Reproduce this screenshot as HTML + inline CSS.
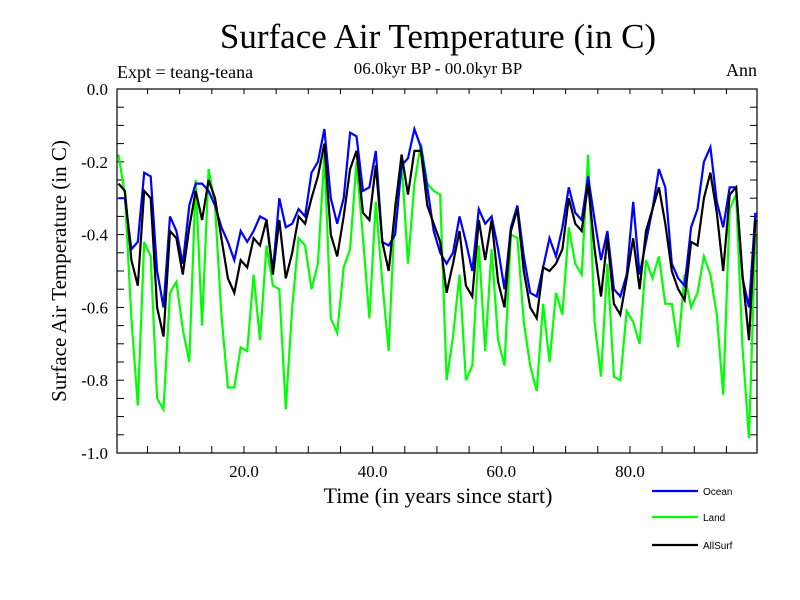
<!DOCTYPE html>
<html><head><meta charset="utf-8"><style>
body{margin:0;background:#fff;}
svg{display:block;font-family:"Liberation Serif",serif;}
</style></head><body>
<svg id="chart" width="800" height="600">
<text x="438" y="48" font-size="35" text-anchor="middle">Surface Air Temperature (in C)</text>
<text x="438" y="74" font-size="17" text-anchor="middle">06.0kyr BP - 00.0kyr BP</text>
<text x="117" y="78" font-size="18">Expt = teang-teana</text>
<text x="757" y="76" font-size="18" text-anchor="end">Ann</text>
<text transform="translate(66,271) rotate(-90)" font-size="21" text-anchor="middle">Surface Air Temperature (in C)</text>
<text x="438" y="503" font-size="22" text-anchor="middle">Time (in years since start)</text>
<g id="ticks"></g>
<g id="series"></g>
<rect x="117" y="89" width="640" height="364" fill="none" stroke="#000" stroke-width="1.2"/>
<g id="legend"></g>
</svg>
<script>
const ocean=[-0.30,-0.30,-0.44,-0.42,-0.23,-0.24,-0.50,-0.60,-0.35,-0.39,-0.48,-0.32,-0.26,-0.26,-0.28,-0.32,-0.38,-0.42,-0.47,-0.39,-0.42,-0.39,-0.35,-0.36,-0.50,-0.30,-0.38,-0.37,-0.33,-0.35,-0.23,-0.20,-0.11,-0.30,-0.37,-0.30,-0.12,-0.13,-0.28,-0.27,-0.17,-0.42,-0.43,-0.40,-0.21,-0.19,-0.11,-0.16,-0.27,-0.39,-0.45,-0.48,-0.45,-0.35,-0.42,-0.50,-0.33,-0.37,-0.35,-0.44,-0.55,-0.38,-0.32,-0.46,-0.56,-0.57,-0.49,-0.41,-0.46,-0.38,-0.27,-0.34,-0.36,-0.24,-0.36,-0.47,-0.39,-0.55,-0.57,-0.51,-0.31,-0.51,-0.42,-0.33,-0.22,-0.27,-0.48,-0.52,-0.54,-0.38,-0.33,-0.20,-0.16,-0.31,-0.38,-0.27,-0.27,-0.52,-0.60,-0.34];
const land=[-0.18,-0.29,-0.63,-0.87,-0.42,-0.46,-0.85,-0.88,-0.56,-0.53,-0.66,-0.75,-0.25,-0.65,-0.22,-0.32,-0.62,-0.82,-0.82,-0.71,-0.72,-0.51,-0.69,-0.43,-0.54,-0.55,-0.88,-0.60,-0.41,-0.43,-0.55,-0.48,-0.18,-0.63,-0.67,-0.49,-0.44,-0.20,-0.41,-0.63,-0.31,-0.53,-0.72,-0.32,-0.20,-0.48,-0.26,-0.15,-0.26,-0.28,-0.29,-0.80,-0.68,-0.51,-0.80,-0.76,-0.43,-0.72,-0.44,-0.69,-0.76,-0.40,-0.41,-0.64,-0.76,-0.83,-0.59,-0.75,-0.56,-0.62,-0.38,-0.48,-0.51,-0.18,-0.64,-0.79,-0.48,-0.79,-0.80,-0.61,-0.64,-0.70,-0.47,-0.52,-0.46,-0.59,-0.59,-0.71,-0.51,-0.60,-0.56,-0.46,-0.51,-0.62,-0.84,-0.33,-0.29,-0.71,-0.96,-0.40];
const allsurf=[-0.26,-0.28,-0.47,-0.54,-0.28,-0.30,-0.60,-0.68,-0.39,-0.41,-0.51,-0.38,-0.28,-0.36,-0.25,-0.30,-0.41,-0.52,-0.56,-0.47,-0.49,-0.41,-0.43,-0.36,-0.51,-0.36,-0.52,-0.45,-0.35,-0.37,-0.30,-0.24,-0.15,-0.40,-0.46,-0.35,-0.22,-0.17,-0.34,-0.36,-0.21,-0.42,-0.50,-0.33,-0.18,-0.29,-0.17,-0.17,-0.32,-0.37,-0.42,-0.56,-0.48,-0.39,-0.54,-0.57,-0.36,-0.47,-0.36,-0.53,-0.60,-0.39,-0.33,-0.50,-0.60,-0.63,-0.49,-0.50,-0.48,-0.44,-0.30,-0.37,-0.39,-0.26,-0.44,-0.57,-0.41,-0.59,-0.62,-0.52,-0.41,-0.55,-0.39,-0.33,-0.27,-0.37,-0.50,-0.55,-0.58,-0.42,-0.43,-0.30,-0.23,-0.34,-0.50,-0.29,-0.27,-0.51,-0.69,-0.36];
const xTicks=[20,40,60,80];
const xTickLabels=["20.0","40.0","60.0","80.0"];
const yTicks=[0,-0.2,-0.4,-0.6,-0.8,-1.0];
const yTickLabels=["0.0","-0.2","-0.4","-0.6","-0.8","-1.0"];
const seriesNames=["Ocean","Land","AllSurf"];

const NS="http://www.w3.org/2000/svg";
function xs(v){return 115.3+6.433*v;}
function ys(v){return 89-v*364;}
function mk(tag,attrs,parent){const e=document.createElementNS(NS,tag);for(const k in attrs)e.setAttribute(k,attrs[k]);parent.appendChild(e);return e;}
const tg=document.getElementById('ticks');
for(let v=5;v<100;v+=5){
  const x=xs(v);
  const t1=mk('line',{x1:x,x2:x,y1:453,y2:446,stroke:'#000'},tg);
  
  
  const t2=mk('line',{x1:x,x2:x,y1:89,y2:94,stroke:'#000'},tg);
  
  
}
xTicks.forEach((v,i)=>{
  const t=mk('text',{x:xs(v),y:477,'font-size':17,'text-anchor':'middle'},tg);
  t.textContent=xTickLabels[i];
  
  
});
for(let k=1;k<20;k++){
  const y=ys(-k*0.05);
  const t1=mk('line',{x1:117,x2:124,y1:y,y2:y,stroke:'#000'},tg);
  
  
  const t2=mk('line',{x1:757,x2:750,y1:y,y2:y,stroke:'#000'},tg);
  
  
}
yTicks.forEach((v,i)=>{
  const t=mk('text',{x:108,y:ys(v)+6,'font-size':17,'text-anchor':'end'},tg);
  t.textContent=yTickLabels[i];
  
  
});
const sg=document.getElementById('series');
const colors=['#0000ff','#00ff00','#000000'];
const data=[ocean,land,allsurf];
const order=[1,0,2];
order.forEach(si=>{
  const pts=data[si].map((v,i)=>xs(i+0.5).toFixed(1)+','+ys(v).toFixed(1)).join(' ');
  const p=mk('polyline',{points:pts,fill:'none',stroke:colors[si],'stroke-width':2.2,'stroke-linejoin':'miter'},sg);
  
  
});
const lg=document.getElementById('legend');
seriesNames.forEach((n,i)=>{
  const y=[491,517,545][i];
  const l=mk('line',{x1:652,x2:698,y1:y,y2:y,stroke:colors[i],'stroke-width':2.2},lg);
  
  
  const t=mk('text',{x:703,y:y+4,'font-size':10,'font-family':'Liberation Sans, sans-serif'},lg);
  t.textContent=n;
  
  
});
</script>
</body></html>
